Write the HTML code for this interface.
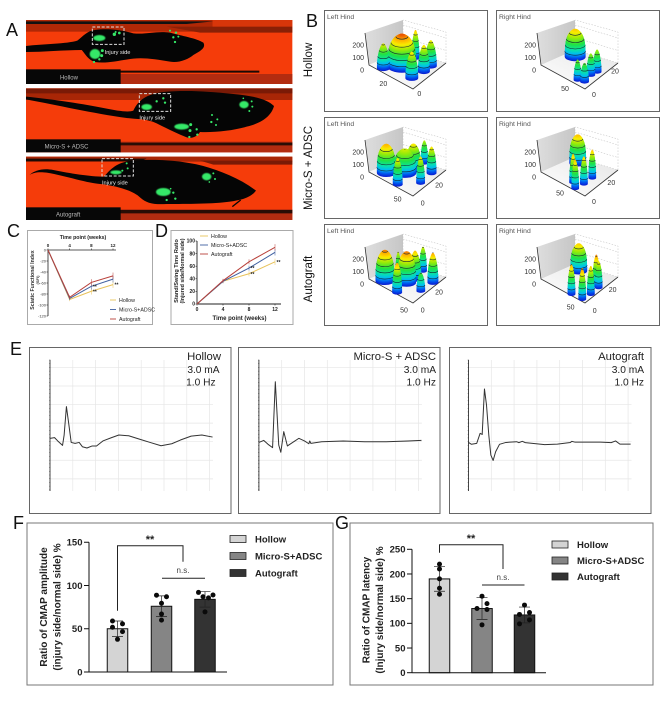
<!DOCTYPE html>
<html>
<head>
<meta charset="utf-8">
<title>Figure panels</title>
<style>
html,body{margin:0;padding:0;background:#fff;width:669px;height:703px;overflow:hidden}
svg{display:block;font-family:"Liberation Sans",sans-serif}
</style>
</head>
<body>
<svg id="fig" xmlns="http://www.w3.org/2000/svg" width="669" height="703" viewBox="0 0 669 703">
<defs>
<filter id="soft" x="-40%" y="-40%" width="180%" height="180%"><feGaussianBlur stdDeviation="1.3"/></filter>
<linearGradient id="wall" x1="0" y1="0" x2="1" y2="0"><stop offset="0" stop-color="#dedede"/><stop offset="1" stop-color="#c6c6c6"/></linearGradient>
<linearGradient id="floorGrad" x1="0" y1="1" x2="1" y2="0"><stop offset="0" stop-color="#ffffff"/><stop offset="1" stop-color="#e6e6e6"/></linearGradient>
</defs>
<rect width="669" height="703" fill="#fff"/>

<g fill="#111" font-size="18">
<text x="6" y="36">A</text>
<text x="306" y="27">B</text>
<text x="7" y="237">C</text>
<text x="155" y="237">D</text>
<text x="10" y="355">E</text>
<text x="13" y="529">F</text>
<text x="335" y="529">G</text>
</g>

<!-- Panel A: drawn in 3x units -->
<g transform="scale(0.33333)">
  <g>
    <rect x="78" y="60" width="799" height="192" fill="#f53c0a"/>
    <rect x="78" y="60" width="560" height="35" fill="#b02806"/>
    <rect x="638" y="60" width="239" height="20" fill="#d8360a"/>
    <path d="M78 64H640L560 72H78Z" fill="#111"/>
    <path d="M500 80H877V98H600Z" fill="#8a2006"/>
    <rect x="360" y="222" width="517" height="30" fill="#b32c10"/>
    <path d="M78 212H778V218H78Z" fill="#1a0a05"/>
    <rect x="78" y="208" width="284" height="44" fill="#070707"/>
    <path d="M78 138C130 132 200 132 232 122C250 108 262 92 285 90C330 84 370 92 400 100C440 104 470 92 510 98C545 108 590 115 610 128C618 142 605 152 580 165C565 178 535 190 510 185C470 178 430 172 400 176C360 180 320 192 285 186C262 178 255 160 245 150C190 150 130 156 78 156Z" fill="#050505"/>
    <rect x="277" y="81" width="95" height="52" fill="none" stroke="#ddd" stroke-width="3" stroke-dasharray="9 5"/>
    <g fill="#36e868">
      <ellipse cx="298" cy="114" rx="18" ry="9" filter="url(#soft)"/>
      <ellipse cx="285" cy="162" rx="16" ry="15" filter="url(#soft)"/>
      <circle cx="343" cy="103" r="5"/><circle cx="358" cy="99" r="4"/><circle cx="347" cy="96" r="3"/>
      <circle cx="307" cy="152" r="4.5"/><circle cx="305" cy="167" r="4.5"/><circle cx="282" cy="186" r="3.5"/><circle cx="298" cy="178" r="3.5"/>
      <circle cx="510" cy="92" r="3"/><circle cx="528" cy="98" r="3.5"/><circle cx="520" cy="112" r="3.5"/><circle cx="535" cy="110" r="3"/><circle cx="525" cy="126" r="3.5"/>
    </g>
    <text x="314" y="162" font-size="17" fill="#eee">Injury side</text>
    <text x="180" y="239" font-size="18" fill="#bbb">Hollow</text>
  </g>
  <g>
    <rect x="78" y="265" width="799" height="192" fill="#f53c0a"/>
    <rect x="78" y="265" width="799" height="35" fill="#a82606"/>
    <path d="M78 266H877V280H78Z" fill="#7a1a06"/>
    <rect x="360" y="425" width="517" height="32" fill="#b32c10"/>
    <path d="M360 428H877V436H360Z" fill="#2a0d05"/>
    <rect x="78" y="418" width="284" height="39" fill="#070707"/>
    <path d="M78 290C160 298 250 312 320 326C350 332 385 338 400 332C415 300 440 282 490 276C560 270 620 274 700 282C760 288 800 296 822 318C815 345 790 368 740 380C700 392 640 398 600 396C590 412 570 418 555 410C530 400 500 385 470 370C440 356 410 358 380 354C280 340 170 315 78 298Z" fill="#050505"/>
    <rect x="418" y="281" width="94" height="53" fill="none" stroke="#ddd" stroke-width="3" stroke-dasharray="9 5"/>
    <g fill="#36e868">
      <ellipse cx="440" cy="321" rx="16" ry="9" filter="url(#soft)"/>
      <ellipse cx="545" cy="380" rx="22" ry="9" filter="url(#soft)"/>
      <ellipse cx="732" cy="314" rx="14" ry="11" filter="url(#soft)"/>
      <circle cx="470" cy="304" r="3.5"/><circle cx="490" cy="295" r="3.5"/><circle cx="495" cy="308" r="3.5"/>
      <circle cx="572" cy="374" r="4.5"/><circle cx="590" cy="388" r="3.5"/><circle cx="570" cy="392" r="4.5"/><circle cx="592" cy="404" r="3.5"/><circle cx="568" cy="411" r="3.5"/>
      <circle cx="755" cy="304" r="3"/><circle cx="757" cy="320" r="3"/><circle cx="748" cy="333" r="3"/><circle cx="730" cy="295" r="2.5"/>
      <circle cx="636" cy="345" r="3"/><circle cx="652" cy="358" r="3"/><circle cx="634" cy="366" r="3.5"/><circle cx="648" cy="375" r="3"/>
    </g>
    <text x="418" y="359" font-size="17" fill="#eee">Injury side</text>
    <text x="134" y="445" font-size="18" fill="#bbb">Micro-S + ADSC</text>
  </g>
  <g>
    <rect x="78" y="470" width="799" height="190" fill="#f53c0a"/>
    <rect x="78" y="470" width="799" height="15" fill="#a82606"/>
    <path d="M78 476H440L420 484H78Z" fill="#1a0a05"/>
    <path d="M600 482H877V494H640Z" fill="#7a1a06"/>
    <rect x="360" y="628" width="517" height="32" fill="#b32c10"/>
    <path d="M360 630H877V640H360Z" fill="#2a0d05"/>
    <rect x="78" y="622" width="284" height="38" fill="#070707"/>
    <path d="M88 525C105 510 130 504 160 510C210 520 270 530 312 530C330 510 350 485 400 482C480 475 560 485 610 498C660 512 720 535 768 572C750 595 720 600 690 605C640 612 560 612 500 612C460 614 440 610 420 592C400 572 350 558 310 553C260 550 200 528 140 518C115 515 100 518 88 525Z" fill="#050505"/>
    <path d="M697 620L722 600" stroke="#050505" stroke-width="4"/>
    <rect x="306" y="476" width="94" height="52" fill="none" stroke="#ddd" stroke-width="3" stroke-dasharray="9 5"/>
    <g fill="#36e868">
      <ellipse cx="348" cy="517" rx="17" ry="6" filter="url(#soft)"/>
      <ellipse cx="490" cy="576" rx="22" ry="12" filter="url(#soft)"/>
      <ellipse cx="620" cy="530" rx="14" ry="11" filter="url(#soft)"/>
      <circle cx="367" cy="512" r="3"/><circle cx="380" cy="490" r="3"/><circle cx="383" cy="505" r="3"/>
      <circle cx="520" cy="578" r="3.5"/><circle cx="526" cy="596" r="3.5"/><circle cx="500" cy="600" r="3.5"/><circle cx="512" cy="566" r="2.5"/>
      <circle cx="640" cy="520" r="3"/><circle cx="645" cy="537" r="3"/><circle cx="628" cy="546" r="2.5"/>
    </g>
    <text x="306" y="554" font-size="17" fill="#eee">Injury side</text>
    <text x="168" y="650" font-size="18" fill="#bbb">Autograft</text>
  </g>
</g>

<!-- Panel B row labels -->
<g font-size="11.5" fill="#111" text-anchor="middle">
<text transform="translate(312,60) rotate(-90)">Hollow</text>
<text transform="translate(312,168) rotate(-90)">Micro-S + ADSC</text>
<text transform="translate(312,279) rotate(-90)">Autograft</text>
</g>
<g id="panelB"></g>

<!-- Panel C and D frames -->
<rect x="27.5" y="230.5" width="125" height="94" fill="#fff" stroke="#aaa"/>
<rect x="171" y="230.5" width="122" height="94" fill="#fff" stroke="#aaa"/>
<g id="panelC"></g>
<g id="panelD"></g>

<g id="panelE"></g>

<rect x="27" y="523" width="306" height="162" fill="#fff" stroke="#777"/>
<rect x="350" y="523" width="303" height="162" fill="#fff" stroke="#777"/>
<g id="panelF"></g>
<g id="panelG"></g>
</svg>

<script>
// ---------- Panel B data: each peak is [depth 0-1, width 0-1, height, footprint]
const leftHollowPeaks = [[.75,.10,200,6],[.53,.37,259,14],[.49,.73,227,3.5],[.20,.23,213,6],[.15,.53,213,5.5],[.15,.74,208,5.5]];
const rightHollowPeaks = [[.68,.61,221,10],[.25,.11,165,3.5],[.13,.16,150,4],[.16,.39,173,4],[.13,.54,178,4]];
const leftMicroPeaks = [[.75,.19,232,9],[.50,.42,192,11],[.44,.60,208,7],[.40,.07,213,4.5],[.12,.39,213,4],[.41,.89,181,3.5],[.14,.75,213,4.5]];
const rightMicroPeaks = [[.66,.66,227,8],[.39,.16,229,3.5],[.26,.05,230,3.5],[.22,.26,221,3.5],[.21,.50,227,3.5]];
const leftAutoPeaks = [[.75,.15,248,9],[.43,.38,250,9],[.38,.57,227,6],[.39,.04,240,4.5],[.66,.43,195,2.5],[.10,.37,147,4],[.41,.85,195,3.5],[.08,.71,240,5]];
const rightAutoPeaks = [[.63,.65,219,8],[.33,.03,240,3.5],[.10,.05,250,3.5],[.07,.27,227,3.5],[.14,.53,250,3.5],[.08,.52,213,3.5]];
const pressureTicks = [0,100,200];

// ---------- Panel C data
const weeks = [0,4,8,12];
const sfiHollow = [0,-90,-75,-63];
const sfiMicro = [0,-88,-66,-53];
const sfiAutograft = [0,-86,-59,-47];
const sfiErr = [0,3,6,6];
const sfiTicks = [0,-20,-40,-60,-80,-100,-120];

// ---------- Panel D data
const ratioHollow = [0,36,48,67];
const ratioMicro = [0,36,57,82];
const ratioAutograft = [0,37,67,90];
const ratioErr = [0,3,4,5];
const ratioTicks = [0,20,40,60,80,100];

// ---------- Panel E data (grid divisions = 10 units)
const hollowT = [0,2,3.4,5.5,6.2,7.2,8.1,9.3,11,12.8,14.2,16.2,18.5,20.4,23.2,27,30.2,34.5,39.2,43.9,48.7,53.4,57.2,61.9,66.6,71.3];
const hollowV = [1.8,2.2,.4,-2,3.6,18.9,10.8,-.4,-.9,-.4,-2.7,-3.4,-2.3,-2.3,.4,2.2,3.6,3.2,1.4,-.4,-2.2,-1.1,.9,3,3.6,2.5];
const microT = [0,2.1,4,6,7.2,8.7,9.6,10.9,12.5,15.3,17.5,20,21.9,22.3,22.8,27.5,37,46.4,55.8,65.3,71.3];
const microV = [-.4,.7,-1.4,-3.2,32.3,-1.8,-5.7,5.4,-2.3,0,1.8,.4,-1.1,.4,-.9,0,.4,0,0,.4,.7];
const autoT = [0,1.3,3.6,5.1,6,7,7.9,8.9,9.8,10.8,11.9,13.6,16.4,21.1,22.1,23.6,24.9,33.4,39,44.7,45.3,46.6,57.9,62.6,64.5,66.4,71.1];
const autoV = [-.4,-1.4,-.9,4.5,3.9,28.4,19.7,3.6,-7.2,-10.1,-5.4,-1.4,-.4,0,-.5,.2,-.5,-1.6,-1.3,-.4,.2,-.2,-.2,-.5,.4,-1.3,-1.3];

// ---------- Panels F, G data
const groups = ['Hollow','Micro-S+ADSC','Autograft'];
const ampMeans = [50,76,84];
const ampErr = [9,12,9];
const ampHollow = [59,55.6,51.7,46.7,37.8];
const ampMicro = [88.8,87,79.5,67,60];
const ampAuto = [92,87,85.7,89,69.5];
const ampTicks = [0,50,100,150];
const latMeans = [190,130,117];
const latErr = [25,22,16];
const latHollow = [220,210,190,171,159];
const latMicro = [155,140,130,128,97];
const latAuto = [137,122,118,107,99];
const latTicks = [0,50,100,150,200,250];

const NS = 'http://www.w3.org/2000/svg';
function mk(tag, parent, attrs, txt){
  const e = document.createElementNS(NS, tag);
  for (const k in attrs) e.setAttribute(k, attrs[k]);
  if (txt !== undefined) e.textContent = txt;
  parent.appendChild(e);
  return e;
}

// ---------- Panel B
function jet(z){
  const stops = [[0,[10,30,210]],[25,[0,90,240]],[55,[0,190,240]],[85,[10,225,170]],[125,[30,225,70]],[170,[150,235,10]],[205,[250,235,0]],[235,[255,170,0]],[260,[230,70,0]]];
  for (let i=1;i<stops.length;i++){
    if (z<=stops[i][0]){
      const a=stops[i-1], b=stops[i], t=(z-a[0])/(b[0]-a[0]);
      return 'rgb('+a[1].map((c,j)=>Math.round(c+(b[1][j]-c)*t)).join(',')+')';
    }
  }
  return 'rgb(230,70,0)';
}
function drawPressure(root, ox, oy, title, peaks, labels){
  const g = mk('g', root, {});
  
  
  const fr = mk('rect', g, {x:ox+.5,y:oy+.5,width:163,height:101,fill:'#fff',stroke:'#666'});
  
  
  const tt = mk('text', g, {x:ox+3,y:oy+9,'font-size':6.8,fill:'#555'}, title);
  
  
  const F=[ox+89,oy+79], L=[ox+45,oy+55], R=[ox+122,oy+53], B=[ox+79,oy+40];
  const Lt=[ox+41,oy+23], Bt=[ox+79,oy+10], Rt=[ox+122,oy+22];
  const zScale = z => z*0.125;
  const P = (u,v,z) => [F[0]+u*(L[0]-F[0])+v*(R[0]-F[0]), F[1]+u*(L[1]-F[1])+v*(R[1]-F[1])-zScale(z)];
  const pts = a => a.map(p=>p.join(',')).join(' ');
  const wall = mk('polygon', g, {points:pts([L,B,Bt,Lt]),fill:'url(#wall)'});
  
  
  const floor = mk('polygon', g, {points:pts([F,L,B,R]),fill:'url(#floorGrad)'});
  
  
  const rw = mk('polygon', g, {points:pts([B,R,Rt,Bt]),fill:'#fff',stroke:'#bbb','stroke-width':.5,'stroke-dasharray':'1.5 1.5'});
  
  
  pressureTicks.forEach(t=>{
    if (t>0){
      const gl = mk('line', g, {x1:B[0],y1:B[1]-zScale(t),x2:R[0],y2:R[1]-zScale(t),stroke:'#bbb','stroke-width':.5,'stroke-dasharray':'1.5 1.5'});
      
      
    }
    const tl = mk('text', g, {x:ox+40,y:oy+62.5-zScale(t),'font-size':7,'text-anchor':'end',fill:'#333'}, t);
    
    
  });
  const ax = mk('polyline', g, {points:pts([Lt,L,F,R]),fill:'none',stroke:'#333','stroke-width':.8});
  
  
  const sorted = peaks.slice().sort((a,b)=>P(a[0],a[1],0)[1]-P(b[0],b[1],0)[1]);
  sorted.forEach(pk=>{
    const pg = mk('g', g, {});
    
    
    const h=pk[2], r=pk[3], step=4;
    for (let z=0;z<=h;z+=step){
      const t=z/h;
      const prof = r>=7 ? Math.pow(1-Math.pow(t,3.2),.6) : Math.pow(1-Math.pow(t,2.2),.7);
      const rr=r*prof+.4, c=P(pk[0],pk[1],z);
      const sl = mk('ellipse', pg, {cx:c[0],cy:c[1],rx:rr,ry:rr*.42,fill:jet(z)});
      
      
      if (z>0 && z%48===0){
        const ct = mk('path', pg, {d:'M'+(c[0]-rr)+' '+c[1]+'A'+rr+' '+rr*.42+' 0 0 0 '+(c[0]+rr)+' '+c[1],fill:'none',stroke:'#123','stroke-width':.6});
        
        
      }
    }
  });
  labels.forEach(l=>{
    const tl = mk('text', g, {x:l[1],y:l[2],'font-size':7,'text-anchor':'middle',fill:'#333'}, l[0]);
    
    
  });
}
(function(){
  const root = document.getElementById('panelB');
  const Z = (t,zx,zy)=>[t,300+zx/3,(zy+8)/3];
  drawPressure(root,324,10,'Left Hind',leftHollowPeaks,[Z('20',250,250),Z('0',358,280)]);
  drawPressure(root,496,10,'Right Hind',rightHollowPeaks,[Z('50',795,265),Z('20',945,212),Z('0',882,283)]);
  drawPressure(root,324,117,'Left Hind',leftMicroPeaks,[Z('50',293,597),Z('20',417,555),Z('0',368,608)]);
  drawPressure(root,496,117,'Right Hind',rightMicroPeaks,[Z('50',780,578),Z('20',934,547),Z('0',882,604)]);
  drawPressure(root,324,224,'Left Hind',leftAutoPeaks,[Z('50',312,930),Z('20',417,876),Z('0',368,930)]);
  drawPressure(root,496,224,'Right Hind',rightAutoPeaks,[Z('50',812,921),Z('20',938,868),Z('0',884,931)]);
})();

// ---------- Panels C, D
const lineColors = ['#e8c25a','#3f5f9f','#b8403a'];
const lineNames = ['Hollow','Micro-S+ADSC','Autograft'];
function drawLines(root, xs, ys, series, err, stars){
  series.forEach((vals,i)=>{
    const pl = mk('polyline', root, {points:vals.map((v,j)=>xs(weeks[j])+','+ys(v)).join(' '),fill:'none',stroke:lineColors[i],'stroke-width':1});
    
    
    vals.forEach((v,j)=>{
      if (!err[j]) return;
      const eb = mk('line', root, {x1:xs(weeks[j]),x2:xs(weeks[j]),y1:ys(v-err[j]),y2:ys(v+err[j]),stroke:lineColors[i],'stroke-width':.5});
      
      
    });
  });
  stars.forEach(s=>{
    const st = mk('text', root, {x:xs(weeks[s[0]])+1.5,y:ys(series[s[1]][s[0]])+2,'font-size':5,'font-weight':'bold',fill:'#222'}, '**');
    
    
  });
}
(function(){
  const root = document.getElementById('panelC');
  const xs = w => 48 + w*65/12;
  const ys = v => 250 - v*66/120;
  const xa = mk('line', root, {x1:xs(0),x2:xs(12)+3,y1:ys(0),y2:ys(0),stroke:'#222','stroke-width':.8});
  
  
  const ya = mk('line', root, {x1:xs(0),x2:xs(0),y1:ys(0),y2:ys(-120),stroke:'#222','stroke-width':.8});
  
  
  weeks.forEach(w=>{
    const tk = mk('line', root, {x1:xs(w),x2:xs(w),y1:ys(0),y2:ys(0)-1.5,stroke:'#222','stroke-width':.6});
    
    
    const tl = mk('text', root, {x:xs(w),y:247,'font-size':4.5,'font-weight':'bold','text-anchor':'middle',fill:'#222'}, w);
    
    
  });
  sfiTicks.forEach(t=>{
    const tk = mk('line', root, {x1:xs(0)-1.5,x2:xs(0),y1:ys(t),y2:ys(t),stroke:'#222','stroke-width':.6});
    
    
    const tl = mk('text', root, {x:xs(0)-2,y:ys(t)+1.5,'font-size':4,'text-anchor':'end',fill:'#333'}, t);
    
    
  });
  const xt = mk('text', root, {x:83,y:239,'font-size':5.2,'font-weight':'bold','text-anchor':'middle',fill:'#222'}, 'Time point (weeks)');
  
  
  const yt = mk('text', root, {transform:'translate(34,280) rotate(-90)','font-size':5.2,'font-weight':'bold','text-anchor':'middle',fill:'#333'}, 'Sciatic Functional Index');
  
  
  const yt2 = mk('text', root, {transform:'translate(39,280) rotate(-90)','font-size':4,'font-weight':'bold','text-anchor':'middle',fill:'#333'}, '(SFI)');
  
  
  drawLines(root, xs, ys, [sfiHollow,sfiMicro,sfiAutograft], sfiErr, [[2,0],[2,1],[3,0]]);
  lineNames.forEach((n,i)=>{
    const y=300+i*9.5;
    const ln = mk('line', root, {x1:110,x2:116,y1:y,y2:y,stroke:lineColors[i],'stroke-width':.9});
    
    
    const tx = mk('text', root, {x:119,y:y+2,'font-size':5.3,fill:'#222'}, n);
    
    
  });
})();
(function(){
  const root = document.getElementById('panelD');
  const xs = w => 197 + w*78/12;
  const ys = v => 304 - v*0.63;
  const xa = mk('line', root, {x1:xs(0),x2:xs(12)+6,y1:ys(0),y2:ys(0),stroke:'#222','stroke-width':.9});
  
  
  const ya = mk('line', root, {x1:xs(0),x2:xs(0),y1:ys(0),y2:ys(100),stroke:'#222','stroke-width':.9});
  
  
  weeks.forEach(w=>{
    const tk = mk('line', root, {x1:xs(w),x2:xs(w),y1:ys(0),y2:ys(0)+1.5,stroke:'#222','stroke-width':.6});
    
    
    const tl = mk('text', root, {x:xs(w),y:311,'font-size':5,'font-weight':'bold','text-anchor':'middle',fill:'#222'}, w);
    
    
  });
  ratioTicks.forEach(t=>{
    const tk = mk('line', root, {x1:xs(0)-1.5,x2:xs(0),y1:ys(t),y2:ys(t),stroke:'#222','stroke-width':.6});
    
    
    const tl = mk('text', root, {x:xs(0)-2,y:ys(t)+1.7,'font-size':5,'font-weight':'bold','text-anchor':'end',fill:'#222'}, t);
    
    
  });
  const xt = mk('text', root, {x:239.5,y:320,'font-size':6,'font-weight':'bold','text-anchor':'middle',fill:'#222'}, 'Time point (weeks)');
  
  
  const yt = mk('text', root, {transform:'translate(178,271) rotate(-90)','font-size':5.6,'font-weight':'bold','text-anchor':'middle',fill:'#222'}, 'Stand/Swing Time Ratio');
  
  
  const yt2 = mk('text', root, {transform:'translate(184,271) rotate(-90)','font-size':5.3,'font-weight':'bold','text-anchor':'middle',fill:'#222'}, '(Injured side/Normal side)');
  
  
  drawLines(root, xs, ys, [ratioHollow,ratioMicro,ratioAutograft], ratioErr, [[2,0],[2,1],[3,0]]);
  lineNames.forEach((n,i)=>{
    const y=236+i*9;
    const ln = mk('line', root, {x1:200,x2:208,y1:y,y2:y,stroke:lineColors[i],'stroke-width':.9});
    
    
    const tx = mk('text', root, {x:211,y:y+2,'font-size':5.3,fill:'#222'}, n);
    
    
  });
})();

// ---------- Panel E
function drawTrace(root, frameX, axisX, tArr, vArr, name, labelRight, currentRight, freqRight){
  const g = mk('g', root, {});
  
  
  const fr = mk('rect', g, {x:frameX+.5,y:347.5,width:201.5,height:166,fill:'#fff',stroke:'#666'});
  
  
  const xs = t => axisX + t*2.28;
  const ys = v => 441.7 - v*1.857;
  for (let d=-2;d<=4;d++){
    const gl = mk('line', g, {x1:xs(0),x2:xs(71.5),y1:ys(d*10),y2:ys(d*10),stroke:'#e6e6e6','stroke-width':.7});
    
    
  }
  for (let d=1;d<=7;d++){
    const gl = mk('line', g, {x1:xs(d*10),x2:xs(d*10),y1:360,y2:491,stroke:'#e6e6e6','stroke-width':.7});
    
    
  }
  const ax = mk('line', g, {x1:axisX,x2:axisX,y1:360,y2:491,stroke:'#333','stroke-width':.9});
  
  
  for (let d=0;d<=35;d++){
    const tk = mk('line', g, {x1:axisX-.8,x2:axisX+.4,y1:360+d*3.71,y2:360+d*3.71,stroke:'#333','stroke-width':.5});
    
    
  }
  const tr = mk('polyline', g, {points:tArr.map((t,i)=>xs(t)+','+ys(vArr[i])).join(' '),fill:'none',stroke:'#333','stroke-width':1,'stroke-linejoin':'round'});
  
  
  const n = mk('text', g, {x:labelRight,y:360,'font-size':11.3,'text-anchor':'end',fill:'#222'}, name);
  
  
  const c = mk('text', g, {x:currentRight,y:373,'font-size':10.2,'text-anchor':'end',fill:'#222'}, '3.0 mA');
  
  
  const f = mk('text', g, {x:freqRight,y:385.5,'font-size':10.2,'text-anchor':'end',fill:'#222'}, '1.0 Hz');
  
  
}
(function(){
  const root = document.getElementById('panelE');
  drawTrace(root, 29, 50, hollowT, hollowV, 'Hollow', 221, 219.6, 215.6);
  drawTrace(root, 238, 258.9, microT, microV, 'Micro-S + ADSC', 436, 436, 436);
  drawTrace(root, 449, 468.5, autoT, autoV, 'Autograft', 644, 644, 644);
})();

// ---------- Panels F, G
const barFills = ['#d4d4d4','#858585','#333333'];
const dotSides = [[-1,1,-1,1,0],[-1,1,0,0,0],[-1.3,-.4,.7,1.6,0]];
const latSides = [[0,0,0,0,0],[0,1,-1,1,0],[0,1,-1,1,-1]];
function drawBars(root, opt){
  const ys = v => opt.y0 - v*opt.k;
  const bw = opt.barW;
  opt.means.forEach((m,i)=>{
    const c = opt.centers[i];
    const b = mk('rect', root, {x:c-bw/2,y:ys(m),width:bw,height:m*opt.k,fill:barFills[i],stroke:'#111','stroke-width':1});
    
    
    const e=opt.err[i];
    const eb = mk('path', root, {d:'M'+c+' '+ys(m+e)+'V'+ys(m-e)+'M'+(c-5.5)+' '+ys(m+e)+'H'+(c+5.5)+'M'+(c-5.5)+' '+ys(m-e)+'H'+(c+5.5),fill:'none',stroke:'#222','stroke-width':.7});
    
    
    opt.dots[i].forEach((v,j)=>{
      const d = mk('circle', root, {cx:c+opt.sides[i][j]*5,cy:ys(v),r:2.5,fill:'#0a0a0a'});
      
      
    });
  });
  const xa = mk('line', root, {x1:opt.axisX,x2:opt.axisEnd,y1:opt.y0,y2:opt.y0,stroke:'#111','stroke-width':1});
  
  
  const last = opt.ticks[opt.ticks.length-1];
  const ya = mk('line', root, {x1:opt.axisX,x2:opt.axisX,y1:ys(last),y2:opt.y0,stroke:'#111','stroke-width':1});
  
  
  opt.ticks.forEach(t=>{
    const tk = mk('line', root, {x1:opt.axisX-5,x2:opt.axisX,y1:ys(t),y2:ys(t),stroke:'#111','stroke-width':1});
    
    
    const tl = mk('text', root, {x:opt.axisX-6.5,y:ys(t)+3.4,'font-size':9.5,'font-weight':'bold','text-anchor':'end',fill:'#222'}, t);
    
    
  });
  const yt1 = mk('text', root, {transform:'translate('+opt.t1x+','+opt.tcy+') rotate(-90)','font-size':10,'font-weight':'bold','text-anchor':'middle',fill:'#222'}, opt.title1);
  
  
  const yt2 = mk('text', root, {transform:'translate('+opt.t2x+','+opt.tcy+') rotate(-90)','font-size':10,'font-weight':'bold','text-anchor':'middle',fill:'#222'}, opt.title2);
  
  
  const br = mk('path', root, {d:opt.bracket,fill:'none',stroke:'#222','stroke-width':1});
  
  
  const st = mk('text', root, {x:opt.starX,y:opt.starY,'font-size':11,'font-weight':'bold','text-anchor':'middle',fill:'#222'}, '**');
  
  
  const ns = mk('text', root, {x:opt.nsX,y:opt.nsY,'font-size':8,'text-anchor':'middle',fill:'#444'}, 'n.s.');
  
  
  const nl = mk('line', root, {x1:opt.nsL[0],x2:opt.nsL[1],y1:opt.nsL[2],y2:opt.nsL[2],stroke:'#222','stroke-width':1});
  
  
  groups.forEach((n,i)=>{
    const y=opt.legY+i*opt.legStep;
    const s = mk('rect', root, {x:opt.legX,y:y,width:16,height:7,fill:barFills[i],stroke:'#222','stroke-width':.8});
    
    
    const t = mk('text', root, {x:opt.legX+25,y:y+7,'font-size':9.5,'font-weight':'bold',fill:'#222'}, n);
    
    
  });
}
drawBars(document.getElementById('panelF'), {
  y0:672, k:0.865, axisX:89, axisEnd:227, barW:20.5, centers:[117.5,161.5,205],
  means:ampMeans, err:ampErr, dots:[ampHollow,ampMicro,ampAuto], sides:dotSides, ticks:ampTicks,
  t1x:47, t2x:60.5, tcy:607, title1:'Ratio of CMAP amplitude', title2:'(injury side/normal side) %',
  bracket:'M117.5 610.7V545.7H183V561.7', starX:150, starY:543, nsX:183, nsY:573, nsL:[162,205,578.3],
  legX:230, legY:535.5, legStep:17
});
drawBars(document.getElementById('panelG'), {
  y0:672.7, k:0.4936, axisX:412, axisEnd:546, barW:20.5, centers:[439.5,482,524.5],
  means:latMeans, err:latErr, dots:[latHollow,latMicro,latAuto], sides:latSides, ticks:latTicks,
  t1x:369.5, t2x:383, tcy:610, title1:'Ratio of CMAP latency', title2:'(Injury side/normal side) %',
  bracket:'M439.5 552.7V544.7H503V569', starX:471, starY:542, nsX:503, nsY:580, nsL:[482,524.5,585],
  legX:552, legY:541, legStep:16
});
</script>
</body>
</html>
